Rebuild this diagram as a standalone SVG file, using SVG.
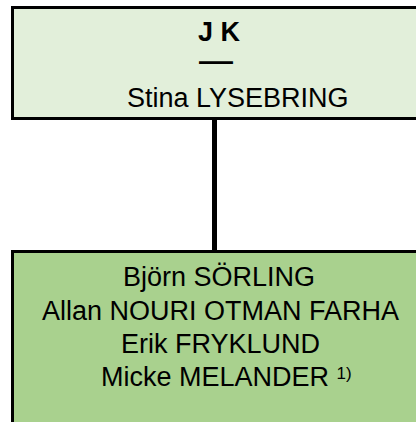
<svg xmlns="http://www.w3.org/2000/svg" width="416" height="422" viewBox="0 0 416 422">
  <style>
    .box { stroke: #000; stroke-width: 3; }
    .top { fill: #E2EFDA; }
    .bottom { fill: #A9D18E; }
    .t { font-family: "Liberation Sans", Arial, sans-serif; font-size: 27px; fill: #000; }
    .b { font-weight: bold; }
    .conn { stroke: #000; stroke-width: 5; fill: none; }
  </style>
  <rect x="0" y="0" width="416" height="422" fill="#fff"/>
  <g id="connectors">
    <line class="conn" x1="214.5" y1="119" x2="214.5" y2="251"/>
  </g>
  <g id="node-jk">
    <rect class="box top" x="12.5" y="7.5" width="410" height="111"/>
    <text class="t b" x="198" y="41">J K</text>
    <text class="t b" x="199" y="69.5" textLength="34" lengthAdjust="spacingAndGlyphs">—</text>
    <text class="t" x="127" y="107">Stina LYSEBRING</text>
  </g>
  <g id="node-members">
    <rect class="box bottom" x="12.5" y="251.5" width="410" height="200"/>
    <text class="t" x="123" y="286">Björn SÖRLING</text>
    <text class="t" x="42" y="319.5">Allan NOURI OTMAN FARHA</text>
    <text class="t" x="121" y="353">Erik FRYKLUND</text>
    <text class="t" x="101" y="386">Micke MELANDER <tspan font-size="17" dy="-7">1)</tspan></text>
  </g>
</svg>
